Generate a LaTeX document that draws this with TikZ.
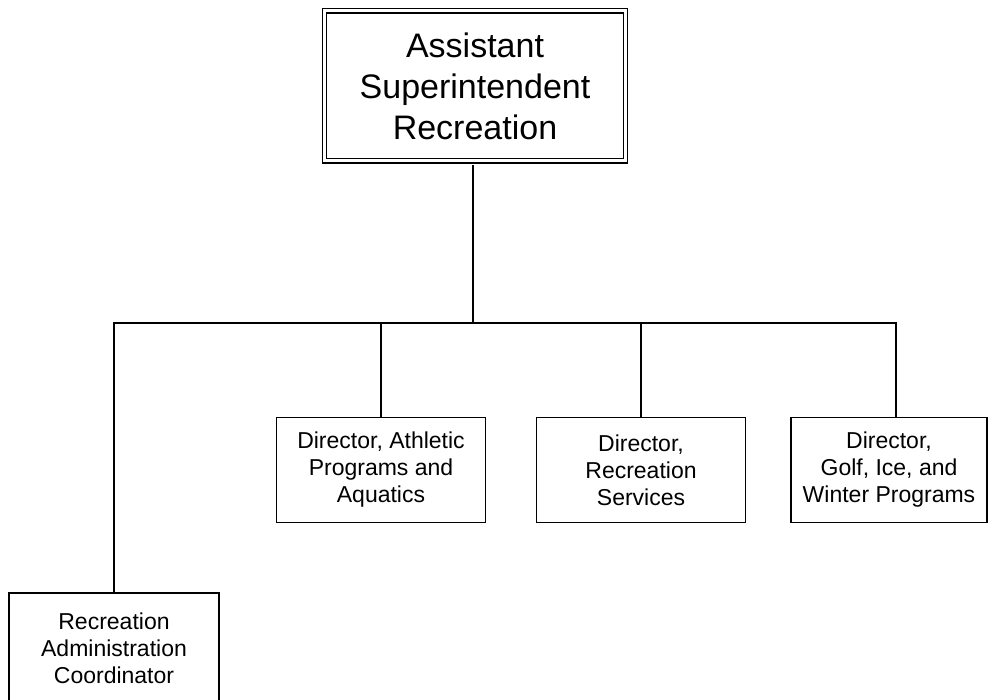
\documentclass[tikz,border=0pt]{standalone}
\usepackage{fontspec}
\setmainfont{Liberation Sans}
\usepackage{tikz}

\tikzset{
  post/.style={draw, line width=1.4pt, minimum width=209pt, minimum height=105pt,
    inner sep=0pt, align=center, font=\fontsize{23}{27}\selectfont},
  head/.style={draw, double, double distance=3pt, line width=1.3pt,
    minimum width=301pt, minimum height=150pt, inner sep=0pt, align=center,
    font=\fontsize{34}{41}\selectfont},
  link/.style={line width=1.4pt}
}

\begin{document}
\begin{tikzpicture}[x=1pt,y=-1pt]
\useasboundingbox (0,0) rectangle (990,700);

\node[head] (asst) at (475,86) {Assistant\\Superintendent\\Recreation};

\node[post] (athl) at (381,470) {Director, Athletic\\Programs and\\Aquatics};
\node[post] (serv) at (641,470) {Director,\\Recreation\\Services};
\node[post, minimum width=196pt] (golf) at (889,470) {Director,\\Golf, Ice, and\\Winter Programs};
\node[post, minimum width=210pt, minimum height=111pt] (admin) at (114,648.5) {Recreation\\Administration\\Coordinator};

% bus
\coordinate (hub) at (473,323);
\coordinate (west) at (114,323);
\coordinate (east) at (896,323);

\draw[link, shorten <=3.6pt] (asst.south -| hub) -- (hub);
\draw[link] (west |- admin.north) -- (west) -- (east) -- (east |- golf.north);
\draw[link] (athl.north) -- (athl.north |- hub);
\draw[link] (serv.north) -- (serv.north |- hub);
\end{tikzpicture}
\end{document}
